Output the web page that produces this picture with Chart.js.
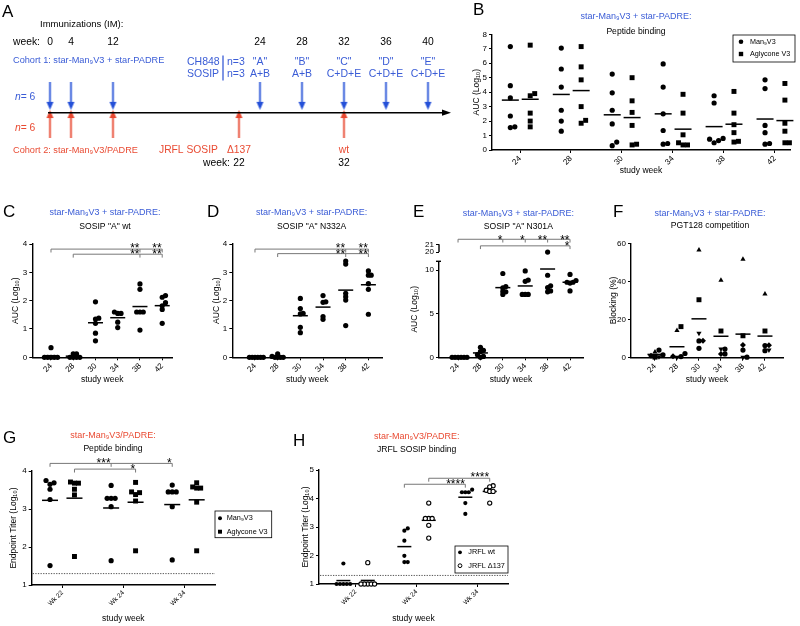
<!DOCTYPE html>
<html><head><meta charset="utf-8">
<script src="https://cdn.jsdelivr.net/npm/chart.js@4.4.1/dist/chart.umd.min.js"></script>
<style>
html,body{margin:0;padding:0;background:#fff;}
body{position:relative;width:800px;height:626px;overflow:hidden;}
canvas{position:absolute;}
</style></head><body>
<canvas id="cA" width="460" height="172" style="left:0px;top:0px"></canvas>
<canvas id="cB" width="330" height="180" style="left:470px;top:0px"></canvas>
<canvas id="cC" width="200" height="195" style="left:0px;top:195px"></canvas>
<canvas id="cD" width="200" height="195" style="left:200px;top:195px"></canvas>
<canvas id="cE" width="200" height="195" style="left:400px;top:195px"></canvas>
<canvas id="cF" width="200" height="195" style="left:600px;top:195px"></canvas>
<canvas id="cG" width="290" height="206" style="left:0px;top:420px"></canvas>
<canvas id="cH" width="230" height="206" style="left:290px;top:420px"></canvas>
<script>
// ================= DATA =================
// Panel A: immunization schedule
const timelineSlots = ['0','4','','12','','','','','','22','24','','28','','32','','36','','40'];
const headerWeeks   = ['0','4','12','24','28','32','36','40'];
const cohort1Weeks  = ['0','4','12','24','28','32','36','40'];
const ch848Weeks    = ['24','28','32','36','40'];
const ch848Group1   = ['"A"','"B"','"C"','"D"','"E"'];
const ch848Group2   = ['A+B','A+B','C+D+E','C+D+E','C+D+E'];
const cohort2Weeks  = ['0','4','12','22','32'];
const jrflWeeks     = ['22','32'];
const jrflVariant   = ['Δ137','wt'];

// Panel B: peptide binding, AUC (log10)
const bWeeks = ['24','28','30','34','38','42'];
const bMan9 = [[7.15,4.45,3.6,2.35,1.55,1.6],[7.05,5.6,4.35,2.75,2.0,1.3],[5.25,3.95,2.75,1.8,0.55,0.3],[5.95,4.35,2.5,1.35,0.45,0.4],[3.75,3.25,0.8,0.75,0.65,0.5],[4.85,4.25,1.7,1.2,0.45,0.4]];
const bAgly = [[7.25,3.9,3.75,2.55,2.0,1.6],[7.15,5.75,4.85,3.0,2.05,1.85],[5.0,3.4,2.6,1.7,0.4,0.35],[3.85,2.55,1.05,0.5,0.35,0.35],[4.05,2.55,1.75,1.2,0.6,0.55],[4.6,3.45,1.85,1.3,0.5,0.5]];

// Panel C: SOSIP "A" wt
const cWeeks = ['24','28','30','34','38','42'];
const cWt = [[0.34,0,0,0,0,0],[0.12,0.12,0,0,0,0],[1.96,1.38,1.35,1.2,0.85,0.58],[1.6,1.55,1.55,1.24,1.05],[2.59,2.4,1.6,1.6,1.6,0.96],[2.18,2.12,1.93,1.82,1.69,1.2]];
// Panel D: SOSIP "A" N332A
const dWeeks = ['24','28','30','34','38','42'];
const dN332A = [[0,0,0,0,0,0],[0.12,0.03,0,0,0,0],[2.08,1.72,1.55,1.53,1.06,0.87],[2.18,1.96,1.94,1.44,1.34],[3.4,3.29,2.26,2.14,2.02,1.12],[3.05,2.9,2.9,2.6,2.4,1.52]];
// Panel E: SOSIP "A" N301A (broken axis)
const eWeeks = ['24','28','30','34','38','42'];
const eN301A = [[0,0,0,0,0,0],[1.15,0.8,0.65,0.3,0.1,0],[9.6,8.1,7.95,7.55,7.5,7.2],[9.9,8.85,8.7,7.2,7.2,7.2],[20,9.4,8.2,8.0,7.6,7.5],[9.5,8.8,8.6,8.6,8.5,7.6]];
const eBreak = 11;
// Panel F: PGT128 competition, blocking (%) per animal
const fWeeks = ['24','28','30','34','38','42'];
const fAnimalTri   = [3.0,14.3,56.5,40.6,51.6,33.4];
const fAnimalSq    = [0.3,16.3,30.4,14.0,11.5,14.0];
const fAnimalInv   = [0.5,0.3,12.8,4.5,0.2,4.0];
const fAnimalDia   = [1.0,0.8,8.9,1.9,6.6,6.5];
const fAnimalCirc1 = [4.0,2.2,8.8,4.5,4.0,6.4];
const fAnimalCirc2 = [1.5,0.6,4.9,2.0,0.3,3.7];
// Panel G: cohort 2 peptide binding, endpoint titer (log10)
const gWeeks = ['Wk 22','Wk 24','Wk 34'];
const gMan9 = [[3.75,3.69,3.65,3.52,3.25,1.51],[3.62,3.28,3.28,3.28,3.06,1.64],[3.63,3.45,3.45,3.45,3.06,1.66]];
const gAgly = [[3.71,3.68,3.68,3.52,3.37,1.75],[3.7,3.43,3.38,3.45,3.21,1.9],[3.69,3.58,3.55,3.55,3.18,1.9]];
// Panel H: JRFL SOSIP binding
const hWeeks = ['Wk 22','Wk 24','Wk 34'];
const hWt   = [[1.72,1,1,1,1,1],[2.95,2.87,2.52,1.99,1.77,1.77],[4.31,4.22,4.22,4.22,3.84,3.46]];
const hD137 = [[1.75,1,1,1,1,1],[3.84,3.3,3.3,3.3,3.06,2.61],[4.45,4.41,4.29,4.25,4.25,3.84]];
const detectionLimit = 1.3;

// Significance annotations
const cSig = [{y:3.82, from:0, to:5, drops:[0,4,5], marks:[[4,'**'],[5,'**']], starY:3.95},
              {y:3.64, from:1, to:5, drops:[1,4,5], marks:[[4,'**'],[5,'**']], starY:3.74}];
const dSig = [{y:3.82, from:0, to:5, drops:[0,4,5], marks:[[4,'**'],[5,'**']], starY:3.95},
              {y:3.66, from:1, to:5, drops:[1,4,5], marks:[[4,'**'],[5,'**']], starY:3.76}];
const eSig = [{axis:'y2', y:21.65, from:0, to:5, drops:[0,2,3,4,5], marks:[[2,'*'],[3,'*'],[4,'**'],[5,'**']], starY:21.97, drop:0.42},
              {axis:'y2', y:20.8, from:1, to:5, drops:[1,5], marks:[[5,'*']], starY:21.22, drop:0.42}];
const gSig = [{y:4.2, from:-0.2, to:1.8, drops:[-0.2,0.8,1.8], marks:[[0.8,'***'],[1.8,'*']], starY:4.29, drop:0.09},
              {y:4.05, from:0.2, to:1.2, drops:[0.2,1.2], marks:[[1.2,'*']], starY:4.14, drop:0.09}];
const hSig = [{y:4.71, from:1.2, to:2.2, drops:[1.2,2.2], marks:[[2.2,'****']], starY:4.86, drop:0.12},
              {y:4.5, from:0.8, to:1.8, drops:[0.8,1.8], marks:[[1.8,'****']], starY:4.62, drop:0.12}];

// ================= STYLE / HELPERS =================
const FONT = '"Liberation Sans", Arial, Helvetica, "DejaVu Sans", sans-serif';
const BLUE = '#2450d8', BLUE_T = '#3a5cd6', RED = '#e8472f', RED_T = '#e94b33';
Chart.defaults.font.family = FONT;
Chart.defaults.color = '#000';
Chart.defaults.animation = false;
Chart.defaults.responsive = false;
Chart.defaults.devicePixelRatio = 1;
Chart.defaults.events = [];
Chart.defaults.plugins.legend.display = false;
Chart.defaults.plugins.tooltip.enabled = false;

function font(size, style) { return (style ? style + ' ' : '') + size + 'px ' + FONT; }
function text(ctx, s, x, y, size, color, align, style) {
  ctx.save(); ctx.font = font(size, style); ctx.fillStyle = color || '#000';
  ctx.textAlign = align || 'left'; ctx.textBaseline = 'middle'; ctx.fillText(s, x, y); ctx.restore();
}
function mean(a) { return a.reduce((s, v) => s + v, 0) / a.length; }

function arrowImg(color, dir) {
  const c = document.createElement('canvas'); c.width = 9; c.height = 28;
  const g = c.getContext('2d'); g.strokeStyle = color; g.fillStyle = color; g.lineWidth = 1.7;
  if (dir === 'down') {
    g.beginPath(); g.moveTo(4.5, 0); g.lineTo(4.5, 21); g.stroke();
    g.beginPath(); g.moveTo(1, 20); g.lineTo(8, 20); g.lineTo(4.5, 28); g.closePath(); g.fill();
  } else {
    g.beginPath(); g.moveTo(4.5, 28); g.lineTo(4.5, 7); g.stroke();
    g.beginPath(); g.moveTo(1, 8); g.lineTo(8, 8); g.lineTo(4.5, 0); g.closePath(); g.fill();
  }
  return c;
}

// ================= PANEL A =================
const slotIndex = w => timelineSlots.indexOf(w);
new Chart(document.getElementById('cA'), {
  type: 'scatter',
  data: { datasets: [
    { data: cohort1Weeks.map(w => ({x: slotIndex(w), y: 97})), pointStyle: arrowImg(BLUE, 'down'), pointRadius: 8, clip: false },
    { data: cohort2Weeks.map(w => ({x: slotIndex(w), y: 128.5})), pointStyle: arrowImg(RED, 'up'), pointRadius: 8, clip: false }
  ]},
  options: {
    layout: { padding: { left: 39.5, right: 21.5, top: 0, bottom: 0 } },
    scales: { x: { type: 'linear', min: -0.5, max: 18.5, display: false },
              y: { type: 'linear', min: 0, max: 172, reverse: true, display: false } }
  },
  plugins: [{ id: 'panelA', afterDraw(chart) {
    const ctx = chart.ctx, xs = chart.scales.x;
    const px = w => xs.getPixelForValue(slotIndex(w));
    ctx.save(); ctx.strokeStyle = '#000'; ctx.lineWidth = 1.6;
    ctx.beginPath(); ctx.moveTo(48, 112.7); ctx.lineTo(444, 112.7); ctx.stroke();
    ctx.fillStyle = '#000'; ctx.beginPath(); ctx.moveTo(451, 112.7); ctx.lineTo(442, 109.6); ctx.lineTo(442, 115.8); ctx.closePath(); ctx.fill();
    ctx.restore();
    text(ctx, 'A', 2, 12.5, 17);
    text(ctx, 'Immunizations (IM):', 40, 24, 9.5);
    text(ctx, 'week:', 13, 42, 10.3);
    headerWeeks.forEach(w => text(ctx, w, px(w), 42, 10.3, '#000', 'center'));
    text(ctx, 'Cohort 1: star-Man₉V3 + star-PADRE', 13, 60, 9.2, BLUE_T);
    text(ctx, 'CH848', 187, 61.7, 10.5, BLUE_T);
    text(ctx, 'SOSIP', 187, 74, 10.5, BLUE_T);
    ctx.save(); ctx.strokeStyle = BLUE_T; ctx.lineWidth = 1.3; ctx.beginPath(); ctx.moveTo(223, 55.5); ctx.lineTo(223, 80.5); ctx.stroke(); ctx.restore();
    text(ctx, 'n=3', 227, 61.7, 10.5, BLUE_T);
    text(ctx, 'n=3', 227, 74, 10.5, BLUE_T);
    ch848Weeks.forEach((w, i) => {
      text(ctx, ch848Group1[i], px(w), 61.7, 10.5, BLUE_T, 'center');
      text(ctx, ch848Group2[i], px(w), 74, 10.5, BLUE_T, 'center');
    });
    const nLabel = (x, y, color) => {
      ctx.save(); ctx.font = font(10.3, 'italic'); ctx.fillStyle = color; ctx.textBaseline = 'middle';
      ctx.fillText('n', x, y); const w = ctx.measureText('n').width;
      ctx.font = font(10.3); ctx.fillText('= 6', x + w, y); ctx.restore();
    };
    nLabel(15, 97, BLUE_T);
    nLabel(15, 128, RED_T);
    text(ctx, 'Cohort 2: star-Man₉V3/PADRE', 13, 150, 9.2, RED_T);
    text(ctx, 'JRFL SOSIP', 159, 150, 10.3, RED_T);
    jrflWeeks.forEach((w, i) => {
      text(ctx, jrflVariant[i], px(w), 150, 10.3, RED_T, 'center');
      text(ctx, w, px(w), 163, 10.3, '#000', 'center');
    });
    text(ctx, 'week:', 203, 163, 10.3);
  }}]
});

// ================= SCATTER PANELS =================
function xAxis(labels, min, max, h, tickSize, title, titlePad) {
  return {
    type: 'linear', min, max, position: 'bottom',
    afterBuildTicks: s => { s.ticks = labels.map((_, i) => ({ value: i })); },
    afterFit: s => { s.height = h; },
    ticks: { callback: v => labels[v], minRotation: 45, maxRotation: 45, autoSkip: false, font: { size: tickSize }, padding: 1, color: '#000' },
    grid: { display: true, drawOnChartArea: false, drawTicks: true, tickLength: 3, color: '#000', lineWidth: 1 },
    border: { display: true, color: '#000', width: 1.4 },
    title: { display: true, text: title, font: { size: 8.5 }, color: '#000', padding: { top: 0, bottom: titlePad } }
  };
}
function yAxis(min, max, ticks, w, title, titleCenter, extra) {
  return Object.assign({
    type: 'linear', min, max, position: 'left',
    afterBuildTicks: s => { s.ticks = ticks.map(v => ({ value: v })); },
    afterFit: s => { s.width = w; },
    ticks: { font: { size: 8 }, padding: 2, color: '#000', autoSkip: false, callback: v => String(v) },
    grid: { display: true, drawOnChartArea: false, drawTicks: true, tickLength: 3, color: '#000', lineWidth: 1 },
    border: { display: true, color: '#000', width: 1.4 },
    title: { display: !!title, text: title, font: { size: 8.5 }, color: '#000', padding: { top: titleCenter - 5.1, bottom: 0 } }
  }, extra || {});
}

function drawBracket(ctx, xs, ys, b) {
  const drop = b.drop == null ? 0.12 : b.drop;
  const y = ys.getPixelForValue(b.y), yd = ys.getPixelForValue(b.y - drop);
  ctx.save(); ctx.strokeStyle = '#777'; ctx.lineWidth = 1;
  ctx.beginPath(); ctx.moveTo(xs.getPixelForValue(b.from), y); ctx.lineTo(xs.getPixelForValue(b.to), y);
  b.drops.forEach(d => { const x = xs.getPixelForValue(d); ctx.moveTo(x, y); ctx.lineTo(x, yd); });
  ctx.stroke();
  const sy = ys.getPixelForValue(b.starY);
  ctx.fillStyle = '#000'; ctx.font = font(12); ctx.textAlign = 'right'; ctx.textBaseline = 'alphabetic';
  b.marks.forEach(([m, s]) => ctx.fillText(s, xs.getPixelForValue(m) - 0.5, sy + 0.58 * 12));
  ctx.restore();
}
function drawLegend(ctx, L) {
  ctx.save(); ctx.strokeStyle = '#000'; ctx.lineWidth = 0.8;
  ctx.strokeRect(L.box[0], L.box[1], L.box[2], L.box[3]);
  L.items.forEach(it => {
    ctx.fillStyle = it.fill; ctx.strokeStyle = '#000'; ctx.lineWidth = it.bw || 0;
    Chart.helpers.drawPoint(ctx, { pointStyle: it.shape, radius: it.r, rotation: 0, borderWidth: it.bw || 0 }, L.mx, it.y);
    text(ctx, it.label, L.tx, it.y, L.size);
  });
  ctx.restore();
}

function plotChart(id, o) {
  const datasets = [];
  o.series.forEach((s, si) => {
    const pts = [];
    s.values.forEach((arr, ci) => arr.forEach(v => {
      if (s.filter && !s.filter(v)) return;
      pts.push({ x: ci + s.offset, y: v, _c: ci + s.offset, _g: (o.pooled ? 'c' : 's' + si + '_') + ci });
    }));
    datasets.push({ data: pts, yAxisID: s.axis || 'y', pointStyle: s.shape, pointRadius: s.r, pointRotation: s.rot || 0,
      pointBackgroundColor: s.fill, pointBorderColor: s.stroke || s.fill, pointBorderWidth: s.bw || 0, clip: false, _swarm: true });
  });
  o.means.forEach(m => datasets.push({
    data: m.values.map((arr, ci) => ({ x: ci + m.offset, y: mean(arr) })), yAxisID: 'y',
    pointStyle: 'line', pointRadius: m.r, pointBorderColor: '#000', pointBorderWidth: 1.5, pointBackgroundColor: '#000', clip: false
  }));
  const scales = { x: xAxis(o.labels, o.xmin, o.xmax, o.H - o.area.b, o.xTick || 8, 'study week', o.xTitlePad) };
  Object.assign(scales, o.yScales);
  const chart = new Chart(document.getElementById(id), {
    type: 'scatter',
    data: { datasets },
    options: { layout: { padding: { left: 0, right: o.W - o.area.r, top: o.area.t, bottom: 0 } }, scales },
    plugins: [{ id: 'ov', afterDraw(ch) {
      const ctx = ch.ctx, xs = ch.scales.x;
      text(ctx, o.letter[0], o.letter[1], o.letter[2], 17);
      text(ctx, o.title1, o.tx, o.t1y, 9, o.titleColor, 'center');
      text(ctx, o.title2, o.tx, o.t2y, 8.6, '#000', 'center');
      if (o.lod != null) {
        const y = ch.scales.y.getPixelForValue(o.lod);
        ctx.save(); ctx.strokeStyle = '#444'; ctx.lineWidth = 0.9; ctx.setLineDash([1.3, 1.3]);
        ctx.beginPath(); ctx.moveTo(ch.chartArea.left + 1, y); ctx.lineTo(ch.chartArea.right, y); ctx.stroke(); ctx.restore();
      }
      if (o.extraDraw) o.extraDraw(ch, ctx);
      (o.sig || []).forEach(b => drawBracket(ctx, xs, ch.scales[b.axis || 'y'], b));
      if (o.legend) drawLegend(ctx, o.legend);
    }}]
  });
  // beeswarm-style horizontal spreading of overlapping points
  const pxX = Math.abs(chart.scales.x.getPixelForValue(1) - chart.scales.x.getPixelForValue(0));
  const groups = {};
  chart.data.datasets.forEach(ds => {
    if (!ds._swarm) return;
    const ys = chart.scales[ds.yAxisID];
    ds.data.forEach(p => { (groups[p._g] = groups[p._g] || []).push({ p, py: ys.getPixelForValue(p.y) }); });
  });
  const step = o.step || 4;
  const cands = [0]; for (let k = 1; k < 9; k++) cands.push(k, -k);
  Object.values(groups).forEach(list => {
    list.sort((a, b) => b.py - a.py);
    const placed = [];
    list.forEach(it => {
      for (const k of cands) {
        const x = k * step;
        if (placed.every(q => Math.hypot(q.x - x, q.y - it.py) >= step * 0.999)) {
          placed.push({ x, y: it.py }); it.p.x = it.p._c + x / pxX; break;
        }
      }
    });
  });
  chart.update('none');
  return chart;
}

const DOT = { shape: 'circle', r: 2.6, fill: '#000' };
const SQ = { shape: 'rect', r: 3.5, fill: '#000' };

// ---- B ----
plotChart('cB', {
  W: 330, H: 180, area: { l: 22, r: 328, t: 34.3, b: 150 },
  labels: bWeeks, xmin: -0.55, xmax: 5.3, xTitlePad: 3.9,
  yScales: { y: yAxis(0, 8, [0,1,2,3,4,5,6,7,8], 22, 'AUC (Log₁₀)', 7) },
  series: [Object.assign({ values: bMan9, offset: -0.19 }, DOT), Object.assign({ values: bAgly, offset: 0.2 }, SQ)],
  means: [{ values: bMan9, offset: -0.19, r: 8.5 }, { values: bAgly, offset: 0.2, r: 8.5 }],
  step: 4.5,
  letter: ['B', 3, 10.5], title1: 'star-Man₉V3 + star-PADRE:', title2: 'Peptide binding', titleColor: BLUE_T, tx: 166, t1y: 17, t2y: 32,
  legend: { box: [263, 35, 62, 27], mx: 271, tx: 280, size: 7.2,
    items: [{ label: 'Man₉V3', shape: 'circle', r: 2.3, fill: '#000', y: 41.7 }, { label: 'Aglycone V3', shape: 'rect', r: 3.1, fill: '#000', y: 54 }] }
});

// ---- C ----
plotChart('cC', {
  W: 200, H: 195, area: { l: 32.3, r: 172, t: 49, b: 162.3 },
  labels: cWeeks, xmin: -0.84, xmax: 5.44, xTitlePad: 4.9,
  yScales: { y: yAxis(0, 4, [0,1,2,3,4], 32.3, 'AUC (Log₁₀)', 15.5) },
  series: [Object.assign({ values: cWt, offset: 0 }, DOT)],
  means: [{ values: cWt, offset: 0, r: 7.5 }],
  step: 3.3,
  letter: ['C', 3, 17.5], title1: 'star-Man₉V3 + star-PADRE:', title2: 'SOSIP "A" wt', titleColor: BLUE_T, tx: 105, t1y: 18, t2y: 32,
  sig: cSig
});

// ---- D ----
plotChart('cD', {
  W: 200, H: 195, area: { l: 32.3, r: 182, t: 49, b: 162.3 },
  labels: dWeeks, xmin: -1.0, xmax: 5.6, xTitlePad: 4.9,
  yScales: { y: yAxis(0, 4, [0,1,2,3,4], 32.3, 'AUC (Log₁₀)', 16.7) },
  series: [Object.assign({ values: dN332A, offset: 0 }, DOT)],
  means: [{ values: dN332A, offset: 0, r: 7.5 }],
  step: 2.8,
  letter: ['D', 7, 17.5], title1: 'star-Man₉V3 + star-PADRE:', title2: 'SOSIP "A" N332A', titleColor: BLUE_T, tx: 111.7, t1y: 18, t2y: 32,
  sig: dSig
});

// ---- E (broken y axis: two stacked scales) ----
plotChart('cE', {
  W: 200, H: 195, area: { l: 39, r: 183, t: 49.3, b: 162.3 },
  labels: eWeeks, xmin: -0.85, xmax: 5.58, xTitlePad: 4.9,
  yScales: {
    y: yAxis(0, eBreak, [0,5,10,11], 39, 'AUC (Log₁₀)', 15, { stack: 'e', stackWeight: 96, weight: 0,
      ticks: { font: { size: 8 }, padding: 2, color: '#000', autoSkip: false, callback: v => (v === eBreak ? '' : String(v)) } }),
    y2: yAxis(18.8, 21, [20,21], 39, '', 0, { stack: 'e', stackWeight: 17, weight: 1, border: { display: false } })
  },
  pooled: true,
  series: [Object.assign({ values: eN301A, offset: 0, filter: v => v <= eBreak }, DOT),
           Object.assign({ values: eN301A, offset: 0, filter: v => v > eBreak, axis: 'y2' }, DOT)],
  means: [{ values: eN301A, offset: 0, r: 7.5 }],
  step: 3,
  letter: ['E', 13, 17.5], title1: 'star-Man₉V3 + star-PADRE:', title2: 'SOSIP "A" N301A', titleColor: BLUE_T, tx: 118.3, t1y: 18.3, t2y: 31.7,
  sig: eSig,
  extraDraw: (ch, ctx) => {
    const y2 = ch.scales.y2, x = ch.chartArea.left;
    ctx.save(); ctx.strokeStyle = '#000'; ctx.lineWidth = 1.4;
    ctx.beginPath(); ctx.moveTo(x, y2.getPixelForValue(21)); ctx.lineTo(x, y2.getPixelForValue(20)); ctx.stroke();
    const yt = ch.scales.y.getPixelForValue(eBreak);
    ctx.beginPath(); ctx.moveTo(x - 3, yt); ctx.lineTo(x + 2, yt); ctx.stroke();
    ctx.restore();
  }
});

// ---- F ----
const fAnimals = [fAnimalTri, fAnimalSq, fAnimalInv, fAnimalDia, fAnimalCirc1, fAnimalCirc2];
const fByWeek = fWeeks.map((_, i) => fAnimals.map(a => a[i]));
const asWeekArrays = a => a.map(v => [v]);
plotChart('cF', {
  W: 200, H: 195, area: { l: 31, r: 183, t: 48.3, b: 162.7 },
  labels: fWeeks, xmin: -1.09, xmax: 5.82, xTitlePad: 4.9,
  yScales: { y: yAxis(0, 60, [0,20,40,60], 31, 'Blocking (%)', 13.5) },
  pooled: true,
  series: [
    { values: asWeekArrays(fAnimalTri), offset: 0, shape: 'triangle', r: 3, fill: '#000' },
    { values: asWeekArrays(fAnimalSq), offset: 0, shape: 'rect', r: 3.5, fill: '#000' },
    { values: asWeekArrays(fAnimalInv), offset: 0, shape: 'triangle', r: 3, rot: 180, fill: '#000' },
    { values: asWeekArrays(fAnimalDia), offset: 0, shape: 'rectRot', r: 3, fill: '#000' },
    { values: asWeekArrays(fAnimalCirc1), offset: 0, shape: 'circle', r: 2.6, fill: '#000' },
    { values: asWeekArrays(fAnimalCirc2), offset: 0, shape: 'circle', r: 2.6, fill: '#000' }
  ],
  means: [{ values: fByWeek, offset: 0, r: 7.5 }],
  letter: ['F', 13, 17.5], title1: 'star-Man₉V3 + star-PADRE:', title2: 'PGT128 competition', titleColor: BLUE_T, tx: 110, t1y: 18.3, t2y: 31
});

// ---- G ----
plotChart('cG', {
  W: 290, H: 206, area: { l: 31.7, r: 215, t: 51, b: 165 },
  labels: gWeeks, xmin: -0.5, xmax: 2.5, xTick: 6.5, xTitlePad: 1.9,
  yScales: { y: yAxis(1, 4, [1,2,3,4], 31.7, 'Endpoint Titer (Log₁₀)', 14) },
  series: [Object.assign({ values: gMan9, offset: -0.2 }, DOT), Object.assign({ values: gAgly, offset: 0.2 }, SQ)],
  means: [{ values: gMan9, offset: -0.2, r: 8 }, { values: gAgly, offset: 0.2, r: 8 }],
  lod: detectionLimit,
  letter: ['G', 3, 18], title1: 'star-Man₉V3/PADRE:', title2: 'Peptide binding', titleColor: RED_T, tx: 113, t1y: 15.7, t2y: 29,
  sig: gSig,
  legend: { box: [215, 91, 56.7, 26.7], mx: 220, tx: 226.7, size: 7.3,
    items: [{ label: 'Man₉V3', shape: 'circle', r: 2, fill: '#000', y: 98.3 }, { label: 'Aglycone V3', shape: 'rect', r: 2.8, fill: '#000', y: 111.7 }] }
});

// ---- H ----
plotChart('cH', {
  W: 230, H: 206, area: { l: 29, r: 218, t: 50, b: 164 },
  labels: hWeeks, xmin: -0.6, xmax: 2.5, xTick: 6.5, xTitlePad: 1.9,
  yScales: { y: yAxis(1, 5, [1,2,3,4,5], 29, 'Endpoint Titer (Log₁₀)', 15.5) },
  series: [{ values: hWt, offset: -0.2, shape: 'circle', r: 2.1, fill: '#000' },
           { values: hD137, offset: 0.2, shape: 'circle', r: 2.1, fill: '#fff', stroke: '#000', bw: 1.1 }],
  means: [{ values: hWt, offset: -0.2, r: 7 }, { values: hD137, offset: 0.2, r: 7 }],
  step: 3.4,
  lod: detectionLimit,
  letter: ['H', 3, 21], title1: 'star-Man₉V3/PADRE:', title2: 'JRFL SOSIP binding', titleColor: RED_T, tx: 126.7, t1y: 16.7, t2y: 29.3,
  sig: hSig,
  legend: { box: [165, 126, 53, 27], mx: 170, tx: 178.3, size: 7.3,
    items: [{ label: 'JRFL wt', shape: 'circle', r: 1.9, fill: '#000', y: 132.3 }, { label: 'JRFL Δ137', shape: 'circle', r: 1.9, fill: '#fff', bw: 1, y: 145.7 }] }
});
</script>
</body></html>
